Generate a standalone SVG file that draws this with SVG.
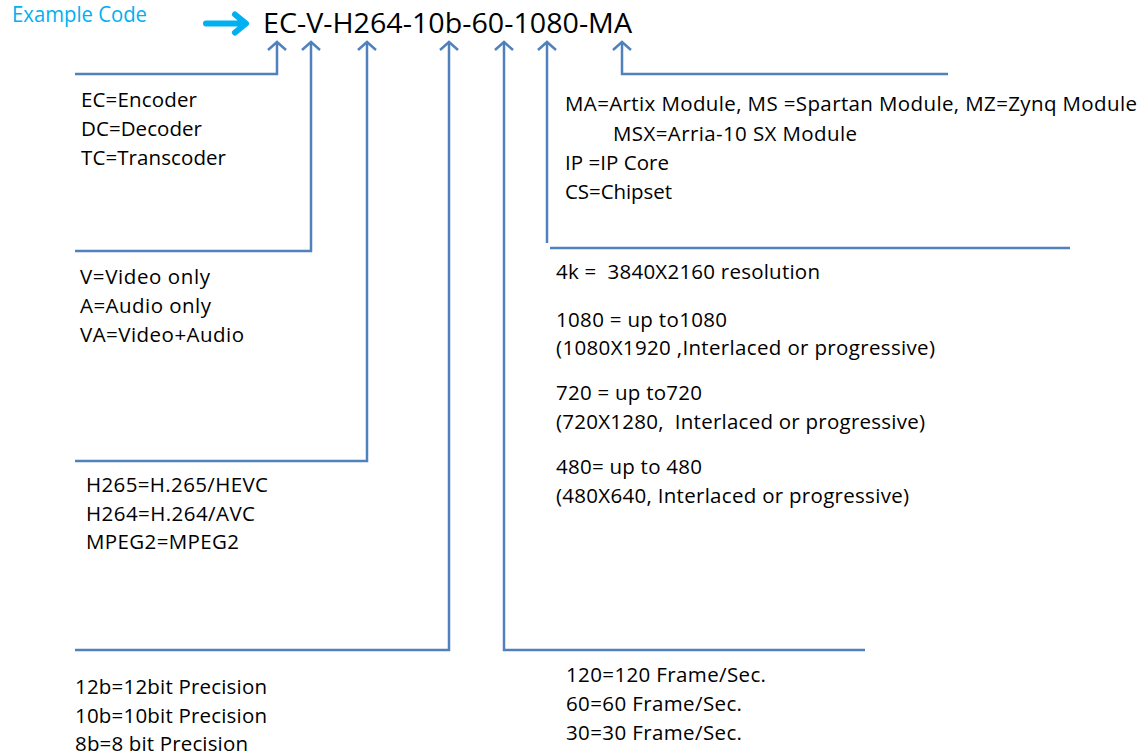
<svg xmlns="http://www.w3.org/2000/svg" width="1142" height="755" viewBox="0 0 1142 755">
<style>
.t{font-family:"Open Sans","Liberation Sans",sans-serif;font-size:20.5px;fill:#000}
.c{fill:none;stroke:#4f81bd;stroke-width:2.5}
</style>
<defs>
<marker id="ah" viewBox="-10 -10 20 20" markerWidth="20" markerHeight="20" refX="0" refY="0" orient="auto" markerUnits="userSpaceOnUse">
<path d="M-8,-9 L0,0 L-8,9" fill="none" stroke="#4f81bd" stroke-width="2.5"/>
</marker>
</defs>
<rect width="1142" height="755" fill="#fff"/>
<g id="header">
<text x="12" y="22" font-family="Open Sans, Liberation Sans, sans-serif" font-size="21" fill="#00b0f0" textLength="135" lengthAdjust="spacingAndGlyphs">Example Code</text>
<path d="M206,23.5 L243,23.5 M235,14.5 L246,23.5 L235,32.5" fill="none" stroke="#00b0f0" stroke-width="6" stroke-linecap="round" stroke-linejoin="round"/>
<text x="263" y="33" font-family="Open Sans, Liberation Sans, sans-serif" font-size="27" fill="#000" textLength="369" lengthAdjust="spacingAndGlyphs">EC-V-H264-10b-60-1080-MA</text>
</g>
<g id="connectors" class="c">
<path class="c" d="M75,74 L277,74 L277,42" marker-end="url(#ah)"/>
<path class="c" d="M75,251 L311,251 L311,42" marker-end="url(#ah)"/>
<path class="c" d="M75,461 L367,461 L367,42" marker-end="url(#ah)"/>
<path class="c" d="M75,650 L449,650 L449,42" marker-end="url(#ah)"/>
<path class="c" d="M865,650 L504,650 L504,42" marker-end="url(#ah)"/>
<path class="c" d="M547,243 L547,42" marker-end="url(#ah)"/>
<path class="c" d="M550,248 L1070,248"/>
<path class="c" d="M948,74 L622,74 L622,42" marker-end="url(#ah)"/>
</g>
<g id="n-type">
<text class="t" x="81" y="107" textLength="116">EC=Encoder</text>
<text class="t" x="81" y="136" textLength="121">DC=Decoder</text>
<text class="t" x="81" y="165" textLength="145">TC=Transcoder</text>
</g>
<g id="n-media">
<text class="t" x="80" y="284" textLength="130">V=Video only</text>
<text class="t" x="80" y="313" textLength="131">A=Audio only</text>
<text class="t" x="80" y="342" textLength="164">VA=Video+Audio</text>
</g>
<g id="n-codec">
<text class="t" x="86" y="492" textLength="182">H265=H.265/HEVC</text>
<text class="t" x="86" y="521" textLength="169">H264=H.264/AVC</text>
<text class="t" x="86" y="549" textLength="153">MPEG2=MPEG2</text>
</g>
<g id="n-bits">
<text class="t" x="75" y="694" textLength="192">12b=12bit Precision</text>
<text class="t" x="75" y="723" textLength="192">10b=10bit Precision</text>
<text class="t" x="75" y="751" textLength="173">8b=8 bit Precision</text>
</g>
<g id="n-platform">
<text class="t" x="565" y="111" textLength="572">MA=Artix Module, MS =Spartan Module, MZ=Zynq Module</text>
<text class="t" x="613" y="141" textLength="244">MSX=Arria-10 SX Module</text>
<text class="t" x="565" y="170" textLength="104">IP =IP Core</text>
<text class="t" x="565" y="199" textLength="107">CS=Chipset</text>
</g>
<g id="n-resolution">
<text class="t" x="556" y="279" textLength="264" xml:space="preserve">4k =  3840X2160 resolution</text>
<text class="t" x="556" y="327" textLength="171">1080 = up to1080</text>
<text class="t" x="556" y="355" textLength="379">(1080X1920 ,Interlaced or progressive)</text>
<text class="t" x="556" y="400" textLength="146">720 = up to720</text>
<text class="t" x="556" y="429" textLength="369" xml:space="preserve">(720X1280,  Interlaced or progressive)</text>
<text class="t" x="556" y="474" textLength="146">480= up to 480</text>
<text class="t" x="556" y="503" textLength="353">(480X640, Interlaced or progressive)</text>
</g>
<g id="n-framerate">
<text class="t" x="566" y="682" textLength="200">120=120 Frame/Sec.</text>
<text class="t" x="566" y="711" textLength="176">60=60 Frame/Sec.</text>
<text class="t" x="566" y="740" textLength="176">30=30 Frame/Sec.</text>
</g>
</svg>
